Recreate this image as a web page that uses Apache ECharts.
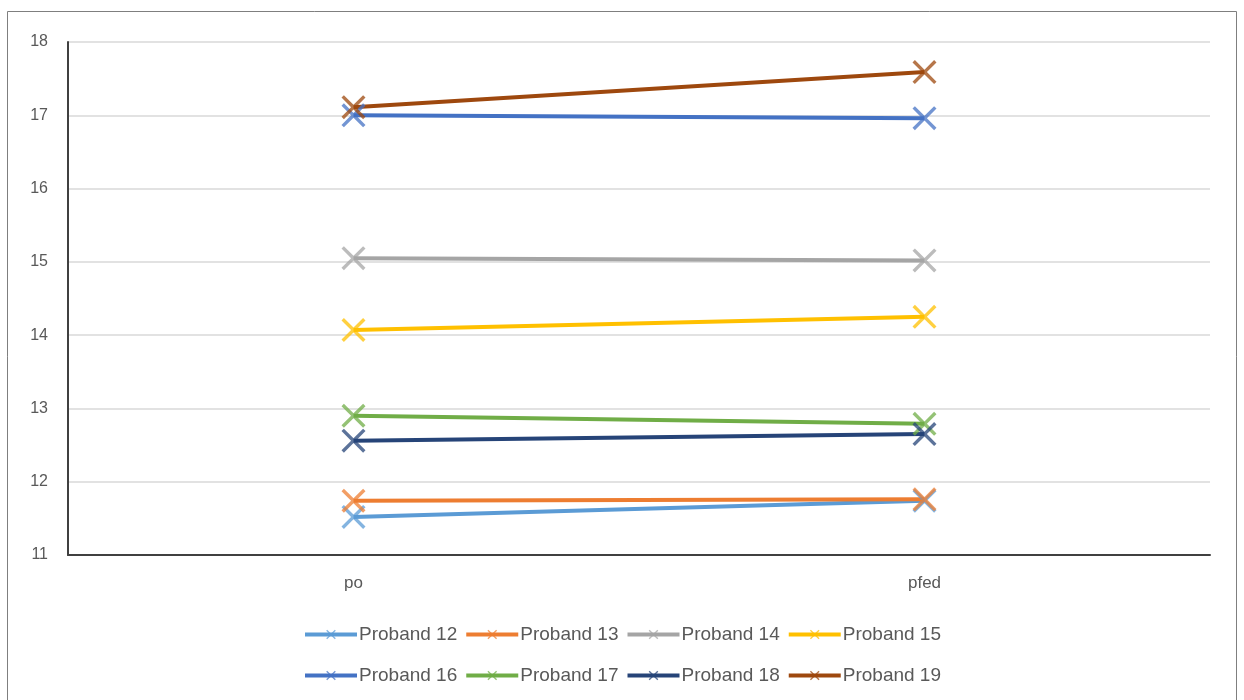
<!DOCTYPE html>
<html>
<head>
<meta charset="utf-8">
<script src="https://cdn.jsdelivr.net/npm/echarts@6/dist/echarts.min.js"></script>
<style>
html,body{margin:0;padding:0;background:#fff;}
#c{width:1244px;height:700px;}
</style>
</head>
<body>
<div id="c"></div>
<script>
const categories = ['po', 'pfed'];
const seriesNames = ['Proband 12','Proband 13','Proband 14','Proband 15','Proband 16','Proband 17','Proband 18','Proband 19'];
const proband12 = [11.52, 11.74];
const proband13 = [11.74, 11.76];
const proband14 = [15.05, 15.02];
const proband15 = [14.07, 14.25];
const proband16 = [17.00, 16.96];
const proband17 = [12.90, 12.79];
const proband18 = [12.56, 12.65];
const proband19 = [17.11, 17.59];
const seriesColors = ['#5B9BD5','#ED7D31','#A5A5A5','#FFC000','#4472C4','#70AD47','#264478','#9E480E'];
const yTicks = [11, 12, 13, 14, 15, 16, 17, 18];

const allData = [proband12, proband13, proband14, proband15, proband16, proband17, proband18, proband19];
const xPath = 'path://M0,1L1,0L5,4L9,0L10,1L6,5L10,9L9,10L5,6L1,10L0,9L4,5Z';
const font = 'Liberation Sans';

const chart = echarts.init(document.getElementById('c'));
const legendCommon = {
  left: 'center',
  itemWidth: 52,
  itemHeight: 12,
  itemGap: 7,
  lineStyle: { width: 4 },
  textStyle: { color: '#595959', fontSize: 19, fontFamily: font, padding: [0, 0, 0, -3] }
};
chart.setOption({
  animation: false,
  backgroundColor: '#fff',
  graphic: [{
    type: 'rect',
    shape: { x: 7.5, y: 11.5, width: 1229, height: 700 },
    style: { fill: 'none', stroke: '#7f7f7f', lineWidth: 1 },
    silent: true
  }],
  grid: { left: 68, right: 34, top: 42, bottom: 145 },
  legend: [
    Object.assign({ top: 620, data: seriesNames.slice(0, 4) }, legendCommon),
    Object.assign({ top: 661, data: seriesNames.slice(4) }, legendCommon)
  ],
  xAxis: {
    type: 'category',
    data: categories,
    boundaryGap: true,
    axisLine: { lineStyle: { color: '#404040', width: 2 } },
    axisTick: { show: false },
    axisLabel: { color: '#595959', fontSize: 17, fontFamily: font, margin: 20 }
  },
  yAxis: {
    type: 'value',
    min: yTicks[0],
    max: yTicks[yTicks.length - 1],
    interval: 1,
    axisLine: { show: true, lineStyle: { color: '#404040', width: 2 } },
    axisTick: { show: false },
    axisLabel: { color: '#595959', fontSize: 16, fontFamily: font, margin: 20 },
    splitLine: { lineStyle: { color: '#d9d9d9', width: 1.5 } }
  },
  series: seriesNames.map((name, i) => ({
    name: name,
    type: 'line',
    data: allData[i],
    symbol: xPath,
    symbolSize: 24,
    showSymbol: true,
    color: seriesColors[i],
    lineStyle: { width: 4, color: seriesColors[i] },
    itemStyle: { color: seriesColors[i], opacity: 0.75 }
  }))
});
</script>
</body>
</html>
